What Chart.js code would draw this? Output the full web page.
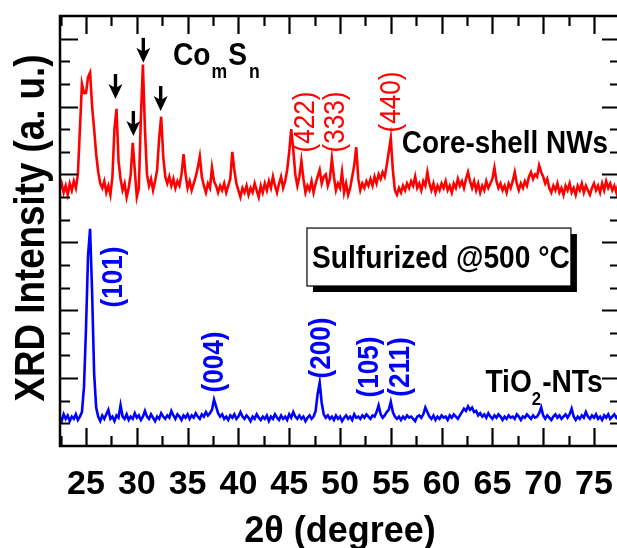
<!DOCTYPE html>
<html><head><meta charset="utf-8">
<script src="https://cdn.jsdelivr.net/npm/chart.js@4.4.1/dist/chart.umd.min.js"></script>
<style>html,body{margin:0;padding:0;overflow:hidden;background:#fff;}#wrap{width:622px;height:548px;}</style>
</head><body><div id="wrap"><canvas id="c" width="622" height="548" style="width:622px;height:548px"></canvas></div>
<script>
// 2θ sampling (degrees)
const twoTheta = [
22.4,22.6,22.8,
23.0,23.2,23.4,23.6,23.8, 24.0,24.2,24.4,24.6,24.8, 25.0,25.2,25.4,25.6,25.8, 26.0,26.2,26.4,26.6,26.8,
27.0,27.2,27.4,27.6,27.8, 28.0,28.2,28.4,28.6,28.8, 29.0,29.2,29.4,29.6,29.8, 30.0,30.2,30.4,30.6,30.8,
31.0,31.2,31.4,31.6,31.8, 32.0,32.2,32.4,32.6,32.8, 33.0,33.2,33.4,33.6,33.8, 34.0,34.2,34.4,34.6,34.8,
35.0,35.2,35.4,35.6,35.8, 36.0,36.2,36.4,36.6,36.8, 37.0,37.2,37.4,37.6,37.8, 38.0,38.2,38.4,38.6,38.8,
39.0,39.2,39.4,39.6,39.8, 40.0,40.2,40.4,40.6,40.8, 41.0,41.2,41.4,41.6,41.8, 42.0,42.2,42.4,42.6,42.8,
43.0,43.2,43.4,43.6,43.8, 44.0,44.2,44.4,44.6,44.8, 45.0,45.2,45.4,45.6,45.8, 46.0,46.2,46.4,46.6,46.8,
47.0,47.2,47.4,47.6,47.8, 48.0,48.2,48.4,48.6,48.8, 49.0,49.2,49.4,49.6,49.8, 50.0,50.2,50.4,50.6,50.8,
51.0,51.2,51.4,51.6,51.8, 52.0,52.2,52.4,52.6,52.8, 53.0,53.2,53.4,53.6,53.8, 54.0,54.2,54.4,54.6,54.8,
55.0,55.2,55.4,55.6,55.8, 56.0,56.2,56.4,56.6,56.8, 57.0,57.2,57.4,57.6,57.8, 58.0,58.2,58.4,58.6,58.8,
59.0,59.2,59.4,59.6,59.8, 60.0,60.2,60.4,60.6,60.8, 61.0,61.2,61.4,61.6,61.8, 62.0,62.2,62.4,62.6,62.8,
63.0,63.2,63.4,63.6,63.8, 64.0,64.2,64.4,64.6,64.8, 65.0,65.2,65.4,65.6,65.8, 66.0,66.2,66.4,66.6,66.8,
67.0,67.2,67.4,67.6,67.8, 68.0,68.2,68.4,68.6,68.8, 69.0,69.2,69.4,69.6,69.8, 70.0,70.2,70.4,70.6,70.8,
71.0,71.2,71.4,71.6,71.8, 72.0,72.2,72.4,72.6,72.8, 73.0,73.2,73.4,73.6,73.8, 74.0,74.2,74.4,74.6,74.8,
75.0,75.2,75.4,75.6,75.8, 76.0,76.2,76.4,76.6,76.8,
77.0,77.2,77.4
];
// Core-shell NWs (red), offset intensity
const coreShell = [
11.3,11.6,11.2,
11.5,11.1,11.6,11.3,11.7, 11.4,12.0,14.0,16.0,15.6, 15.6,16.3,16.5,15.0,14.0, 12.9,12.1,11.6,11.4,11.7,
11.2,11.5,11.1,11.9,14.0, 14.9,12.6,11.8,11.3,11.6, 11.0,11.4,12.0,13.4,12.2, 11.0,11.4,14.5,16.85,14.0,
12.0,11.5,11.8,11.3,11.7, 12.2,13.6,14.55,12.8,11.9, 11.6,11.9,11.5,11.8,11.4, 11.7,11.5,12.0,12.9,12.0,
11.4,11.7,11.3,11.6,11.9, 12.3,12.8,11.9,11.5,11.2, 11.6,11.4,12.3,11.7,11.5, 11.2,11.5,11.3,11.6,11.2,
11.5,11.8,13.0,12.2,11.6, 11.3,11.0,11.4,11.2,11.5, 11.1,11.4,11.2,11.6,11.3, 11.0,11.5,11.2,11.6,11.3,
11.7,11.4,11.9,11.5,11.2, 11.6,11.9,11.4,11.7,12.2, 13.0,14.0,13.1,12.0,11.5, 11.9,12.6,11.8,11.2,11.5,
11.3,11.7,11.2,11.6,11.9, 12.2,11.6,11.9,12.0,11.5, 11.8,12.7,11.9,11.3,11.6, 11.4,12.1,11.2,11.6,11.1,
11.4,11.9,12.4,13.2,11.8, 11.3,11.6,11.4,11.7,11.5, 11.8,11.5,11.9,11.6,12.0, 11.8,12.1,11.9,12.4,13.0,
13.6,12.2,11.3,11.1,11.4, 11.2,11.5,11.3,11.6,11.4, 11.7,11.5,11.9,11.4,11.6, 11.3,11.7,11.5,12.1,11.6,
11.3,11.6,11.2,11.5,11.3, 11.6,11.4,11.7,11.3,11.5, 11.2,11.6,11.4,11.8,11.5, 11.7,11.4,11.8,12.1,11.7,
11.4,11.7,11.3,11.6,11.2, 11.5,11.3,11.7,11.4,11.6, 11.8,12.3,11.7,11.4,11.6, 11.3,11.5,11.2,11.6,11.4,
11.7,12.1,11.6,11.3,11.6, 11.4,11.7,11.5,11.9,12.1, 11.8,12.0,11.9,12.4,12.1, 11.9,11.6,11.8,11.4,11.2,
11.5,11.3,11.6,11.2,11.4, 11.1,11.5,11.3,11.6,11.2, 11.4,11.1,11.5,11.3,11.6, 11.2,11.5,11.3,11.1,11.4,
11.6,11.3,11.5,11.2,11.6, 11.3,11.7,11.4,11.6,11.3,
11.5,11.2,11.6
];
// TiO2-NTs (blue)
const tio2 = [
1.3,1.1,1.4,
1.2,1.35,1.1,1.3,1.2, 1.4,1.15,1.3,1.5,2.6, 5.2,8.4,9.6,6.8,3.2, 1.7,1.3,1.1,1.35,1.2,
1.4,1.6,1.2,1.3,1.1, 1.35,1.25,1.8,1.3,1.2, 1.4,1.15,1.3,1.2,1.45, 1.25,1.35,1.15,1.3,1.55,
1.3,1.2,1.4,1.25,1.1, 1.3,1.2,1.45,1.3,1.2, 1.35,1.25,1.55,1.35,1.2, 1.4,1.3,1.15,1.35,1.25,
1.4,1.2,1.35,1.25,1.45, 1.3,1.2,1.4,1.3,1.5, 1.35,1.45,1.6,2.05,1.75, 1.45,1.3,1.4,1.2,1.3,
1.15,1.35,1.25,1.4,1.2, 1.3,1.5,1.3,1.2,1.35, 1.25,1.1,1.3,1.2,1.4, 1.25,1.15,1.3,1.2,1.35,
1.1,1.3,1.2,1.4,1.25, 1.15,1.35,1.2,1.3,1.15, 1.4,1.25,1.5,1.3,1.2, 1.35,1.2,1.3,1.1,1.25,
1.35,1.2,1.3,1.55,2.3, 2.8,1.9,1.4,1.25,1.35, 1.2,1.3,1.15,1.35,1.2, 1.3,1.1,1.25,1.35,1.2,
1.3,1.15,1.4,1.25,1.3, 1.2,1.35,1.25,1.4,1.3, 1.2,1.35,1.3,1.5,1.8, 1.4,1.25,1.35,1.5,1.6,
1.95,1.5,1.3,1.2,1.3, 1.15,1.3,1.2,1.35,1.25, 1.3,1.2,1.1,1.3,1.35, 1.25,1.4,1.7,1.5,1.3,
1.2,1.35,1.15,1.3,1.2, 1.35,1.25,1.3,1.15,1.35, 1.25,1.4,1.3,1.2,1.35, 1.5,1.65,1.55,1.75,1.6,
1.7,1.5,1.55,1.35,1.45, 1.3,1.4,1.25,1.45,1.3, 1.2,1.35,1.25,1.4,1.3, 1.15,1.3,1.2,1.35,1.25,
1.3,1.2,1.4,1.3,1.15, 1.3,1.25,1.4,1.3,1.2, 1.35,1.25,1.3,1.45,1.7, 1.35,1.2,1.35,1.25,1.15,
1.3,1.4,1.25,1.35,1.2, 1.3,1.4,1.25,1.4,1.65, 1.3,1.15,1.3,1.2,1.35, 1.25,1.5,1.3,1.2,1.35,
1.25,1.4,1.2,1.3,1.15, 1.35,1.25,1.4,1.2,1.3,
1.4,1.25,1.35
];
const xTickLabels = [25,30,35,40,45,50,55,60,65,70,75];
// peak index labels (data coords of label centre)
const csLabels = ['(422)','(333)','(440)'];
const csLabelX = [46.65,49.6,55.12];
const csLabelY = [14.32,14.32,15.2];
const tiLabels = ['(101)','(004)','(200)','(105)','(211)'];
const tiLabelX = [27.75,37.65,48.23,52.95,56.0];
const tiLabelY = [7.47,3.71,4.33,3.49,3.49];
// CoₘSₙ marker arrows (tip positions)
const arrowX = [27.9,29.66,30.64,32.35];
const arrowY = [15.33,13.7,16.93,14.8];

const SANS = "'Liberation Sans',Arial,sans-serif";

function drawScaledText(ctx, txt, x, y, font, align, sx){
  ctx.save();
  ctx.font = font;
  ctx.translate(x, y);
  ctx.scale(sx, 1);
  ctx.textAlign = align;
  ctx.fillText(txt, 0, 0);
  ctx.restore();
}

const decor = {
  id:'decor',
  afterDatasetsDraw(chart){
    const ctx = chart.ctx, xs = chart.scales.x, ys = chart.scales.y, a = chart.chartArea;
    const px = v => xs.getPixelForValue(v), py = v => ys.getPixelForValue(v);
    ctx.save();
    ctx.strokeStyle = '#000'; ctx.lineWidth = 2.5;
    ctx.strokeRect(a.left, a.top, a.right - a.left, a.bottom - a.top);
    ctx.lineWidth = 2.2;
    for (let v = 22.5; v <= xs.max; v += 2.5){
      const X = Math.round(px(v)) + 0.5;
      const major = Math.abs(v/5 - Math.round(v/5)) < 1e-6;
      const L = major ? 18 : 10;
      ctx.beginPath();
      ctx.moveTo(X, a.bottom); ctx.lineTo(X, a.bottom - L);
      ctx.moveTo(X, a.top); ctx.lineTo(X, a.top + L);
      ctx.stroke();
    }
    for (let v = 1; v < ys.max; v += 1){
      const Y = Math.round(py(v)) + 0.5;
      const L = (v % 3 === 0) ? 18 : 10;
      ctx.beginPath();
      ctx.moveTo(a.left, Y); ctx.lineTo(a.left + L, Y);
      ctx.moveTo(a.right, Y); ctx.lineTo(a.right - L, Y);
      ctx.stroke();
    }
    // y-axis title (condensed bold)
    ctx.save();
    ctx.fillStyle = '#000';
    ctx.font = 'bold 42px ' + SANS;
    ctx.textBaseline = 'middle'; ctx.textAlign = 'center';
    const yt = 'XRD Intensity (a. u.)';
    const ysx = 347 / ctx.measureText(yt).width;
    ctx.translate(32, (a.top + a.bottom) / 2 - 3);
    ctx.rotate(-Math.PI/2); ctx.scale(ysx, 1);
    ctx.fillText(yt, 0, 0);
    ctx.restore();
    // peak labels
    ctx.textBaseline = 'middle';
    function rot(txt, x, y, font, color){
      ctx.save();
      ctx.fillStyle = color; ctx.font = font;
      ctx.translate(px(x), py(y)); ctx.rotate(-Math.PI/2); ctx.scale(0.9,1);
      ctx.textAlign = 'center'; ctx.fillText(txt, 0, 0);
      ctx.restore();
    }
    csLabels.forEach((t,i)=>rot(t, csLabelX[i], csLabelY[i], '29px '+SANS, '#ff0000'));
    tiLabels.forEach((t,i)=>rot(t, tiLabelX[i], tiLabelY[i], 'bold 29px '+SANS, '#0000ff'));
    // arrows
    ctx.fillStyle = '#000';
    arrowX.forEach((x,i)=>{
      const X = px(x), Y = py(arrowY[i]);
      ctx.fillRect(X-1.7, Y-25, 3.4, 15);
      ctx.beginPath();
      ctx.moveTo(X, Y); ctx.lineTo(X-7, Y-15); ctx.lineTo(X, Y-11); ctx.lineTo(X+7, Y-15); ctx.closePath();
      ctx.fill();
    });
    // text
    ctx.textBaseline = 'alphabetic';
    ctx.fillStyle = '#000';
    let x0 = px(33.56), b0 = py(16.84);
    ctx.font = 'bold 32px '+SANS;
    const wCo = ctx.measureText('Co').width*0.88;
    drawScaledText(ctx, 'Co', x0, b0, 'bold 32px '+SANS, 'left', 0.88);
    ctx.font = 'bold 20px '+SANS;
    const wm = ctx.measureText('m').width*0.88;
    drawScaledText(ctx, 'm', x0+wCo+1, b0+13, 'bold 20px '+SANS, 'left', 0.88);
    ctx.font = 'bold 32px '+SANS;
    const wS = ctx.measureText('S').width*0.88;
    drawScaledText(ctx, 'S', x0+wCo+wm+2, b0, 'bold 32px '+SANS, 'left', 0.88);
    drawScaledText(ctx, 'n', x0+wCo+wm+wS+4, b0+13, 'bold 20px '+SANS, 'left', 0.88);

    drawScaledText(ctx, 'Core-shell NWs', px(76.38), py(13.43)+11, 'bold 31px '+SANS, 'right', 0.9);
    // TiO2-NTs
    const tb = py(2.92)+12, tr = px(75.85);
    ctx.font = 'bold 32px '+SANS;
    const wN = ctx.measureText('-NTs').width*0.88;
    drawScaledText(ctx, '-NTs', tr, tb, 'bold 32px '+SANS, 'right', 0.88);
    ctx.font = 'bold 19px '+SANS;
    const w2 = ctx.measureText('2').width*0.88;
    drawScaledText(ctx, '2', tr-wN-1, tb+13, 'bold 19px '+SANS, 'right', 0.88);
    drawScaledText(ctx, 'TiO', tr-wN-w2-1, tb, 'bold 32px '+SANS, 'right', 0.88);
    // boxed note with shadow
    const bl = px(46.75), br = px(72.73), bt = py(9.63), bb = py(7.07);
    ctx.fillStyle = '#000';
    ctx.fillRect(bl+6, bt+6, br-bl, bb-bt);
    ctx.fillStyle = '#fff';
    ctx.fillRect(bl, bt, br-bl, bb-bt);
    ctx.lineWidth = 1.2; ctx.strokeStyle = '#000';
    ctx.strokeRect(bl, bt, br-bl, bb-bt);
    ctx.fillStyle = '#000';
    drawScaledText(ctx, 'Sulfurized @500 °C', (bl+br)/2 + 2, bb-18, 'bold 32px '+SANS, 'center', 0.88);
    ctx.restore();
  }
};

const pts = ys => twoTheta.map((x,i)=>({x, y: ys[i]}));
new Chart(document.getElementById('c'), {
  type: 'line',
  data: { datasets: [
    { label: 'Core-shell NWs', data: pts(coreShell), borderColor: '#ff0000', borderWidth: 2.6, pointRadius: 0, tension: 0 },
    { label: 'TiO2-NTs', data: pts(tio2), borderColor: '#0000ff', borderWidth: 2.6, pointRadius: 0, tension: 0 }
  ]},
  options: {
    responsive: false, animation: false, devicePixelRatio: 1,
    layout: { padding: { top: 16, right: 2, left: 0, bottom: 0 } },
    plugins: { legend: { display: false }, tooltip: { enabled: false } },
    scales: {
      x: { type: 'linear', min: 22.44, max: 77.56,
        afterBuildTicks: s => { s.ticks = xTickLabels.map(v => ({ value: v })); },
        afterFit: s => { s.height = 102; s.paddingLeft = 0; s.paddingRight = 0; },
        grid: { display: false, drawTicks: false }, border: { display: false },
        ticks: { color: '#000', padding: 18, maxRotation: 0, autoSkip: false, font: { family: SANS, size: 34, weight: 'bold' } },
        title: { display: true, text: '2θ (degree)', color: '#000', padding: { top: 0, bottom: -2 }, font: { family: SANS, size: 36, weight: 'bold', lineHeight: 1 } }
      },
      y: { type: 'linear', min: 0, max: 19,
        afterFit: s => { s.width = 60; s.paddingTop = 0; s.paddingBottom = 0; },
        grid: { display: false, drawTicks: false }, border: { display: false },
        ticks: { display: false },
        title: { display: false, text: 'XRD Intensity (a. u.)' }
      }
    }
  },
  plugins: [decor]
});
</script></body></html>
